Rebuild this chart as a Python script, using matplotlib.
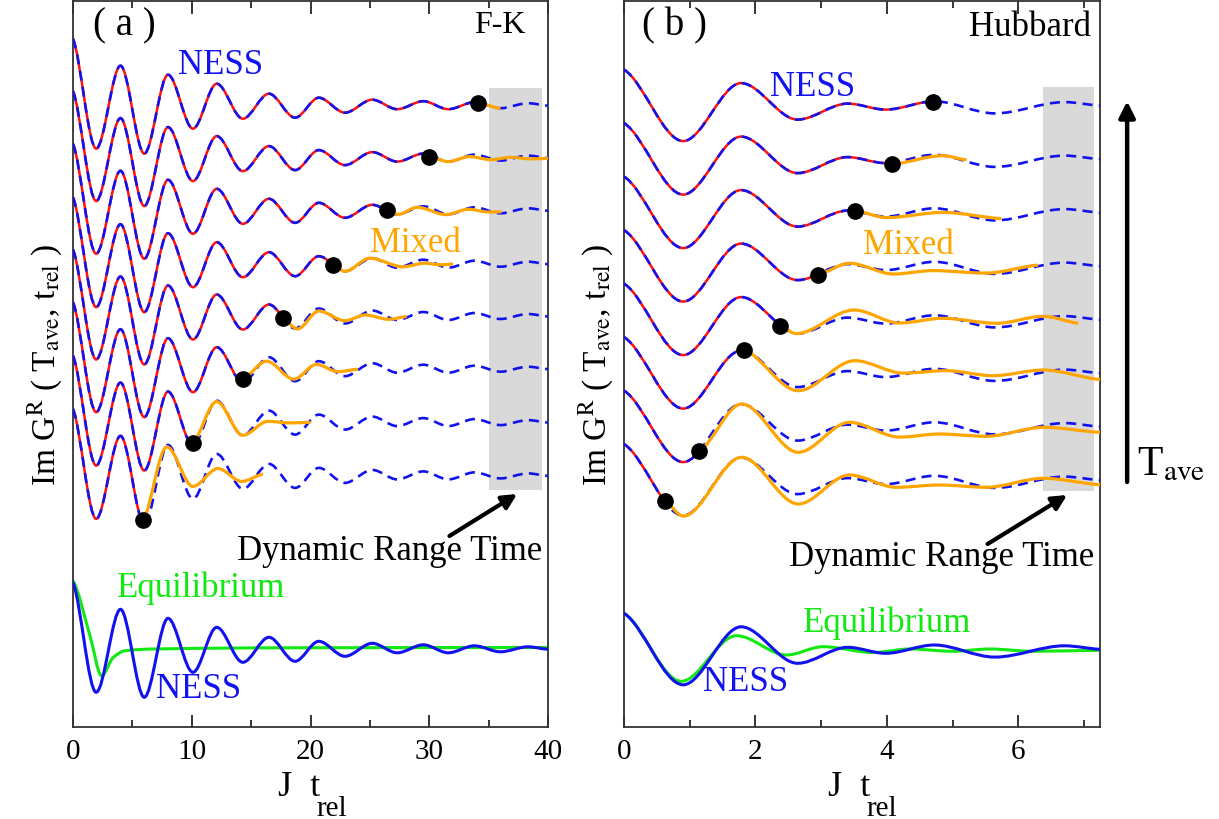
import numpy as np
import matplotlib
matplotlib.use('Agg')
import matplotlib.pyplot as plt
from matplotlib.path import Path
from matplotlib.patches import PathPatch, Rectangle
from matplotlib.ticker import MultipleLocator

plt.rcParams['font.family'] = ['Liberation Serif', 'DejaVu Serif']
plt.rcParams['mathtext.fontset'] = 'stix'

# ---------------- panel (a): F-K ----------------
# NESS curve, extrema (t, value relative to row baseline)
ness_a_t = [0, 1.95, 4.0, 6.0, 8.0, 10.1, 12.1, 14.3, 16.5, 18.7, 20.7, 22.9,
            25.2, 27.3, 29.5, 31.6, 33.8, 36.0, 38.3, 40]
ness_a_v = [67, -43, 40, -48, 31, -23, 22, -13, 12, -12, 8, -7,
            6, -3.5, 4.5, -3.5, 3.5, -2.5, 2.5, 0]
eq_a_t = [0, 1.43, 2.41, 3.4, 4.4, 6.8, 18, 40]
eq_a_v = [68.6, 13.6, -26.4, -8, -1.4, 0.3, 1.5, 1.8]

offsets_a = [621.3, 568.9, 516.2, 462.8, 410.5, 357.8, 304.4, 251.1]
dots_a_t = [34.1, 30.0, 26.4, 21.9, 17.7, 14.3, 10.1, 5.92]
dots_a_v = [3.0, 1.4, 0.5, -0.6, -1.7, -10.0, -20.7, -44.5]
mixed_a_t = [
    [36.0],
    [31.6, 33.4, 35.2, 36.9, 38.5, 40.0],
    [27.4, 29.0, 31.4, 33.3, 35.0, 36.1],
    [22.9, 25.0, 27.8, 29.6, 31.0, 32.0],
    [18.9, 20.7, 22.9, 24.6, 26.6, 28.1],
    [16.3, 18.6, 20.5, 22.3, 24.0],
    [12.1, 14.3, 16.4, 18.3, 20.0],
    [7.9, 10.1, 12.2, 14.2, 16.0],
]
mixed_a_v = [
    [-2.8],
    [-3.5, 1.5, -1.6, 0.8, -0.8, -0.3],
    [-3.5, 3.5, -3.8, 1.5, -1.2, -1.0],
    [-7.2, 6.0, -2.6, 1.0, -0.6, 0.2],
    [-12.5, 5.5, -4.2, 1.5, -2.8, 0],
    [8, -10, 4.8, -2.5, 0],
    [21, -12.7, 1.2, -0.3, 0.3],
    [29, -10.5, 7.4, -5.5, 1.8],
]

# ---------------- panel (b): Hubbard ----------------
ness_b_t = [0, 0.9, 1.78, 2.64, 3.4, 3.98, 4.72, 5.64, 6.7, 7.24]
ness_b_v = [36, -35.5, 22.5, -14, 2, -4, 4.3, -7.8, 3.5, 0]
eq_b_t = [0, 0.87, 1.71, 2.47, 3.03, 3.79, 4.35, 5.0, 5.56, 6.22, 7.24]
eq_b_v = [36, -32, 13.6, -5.7, 2.6, -3.2, 0.3, -2, 0.3, -2, -1]

offsets_b = [621.4, 567.9, 514.4, 460.9, 407.4, 353.9, 300.4, 246.9]
dots_b_t = [4.70, 4.08, 3.52, 2.95, 2.38, 1.83, 1.14, 0.62]
dots_b_v = [3.3, -5.2, 1.8, -8.6, -6.7, 23.4, -24.7, -20.6]
mixed_b_t = [
    [],
    [4.85, 5.21],
    [4.0, 4.85, 5.74],
    [3.43, 4.1, 4.7, 5.5, 6.3],
    [2.62, 3.5, 4.19, 4.85, 5.67, 6.38, 6.91],
    [2.65, 3.51, 4.25, 4.9, 5.61, 6.38, 7.24],
    [1.79, 2.65, 3.43, 4.19, 4.8, 5.51, 6.38, 7.24],
    [0.9, 1.79, 2.65, 3.43, 4.14, 4.8, 5.51, 6.38, 7.24],
]
mixed_b_v = [
    [],
    [3.4, -0.8],
    [-5.0, 0.2, -6.0],
    [2.8, -7.9, -4.5, -7.0, 1.0],
    [-14, 9.6, -3.4, 1.3, -3.7, 3.3, -3.7],
    [-17.6, 12.4, 0, 2.4, -2.6, 3.1, -6.4],
    [22.6, -25.7, 4.3, -10.5, -7.4, -9.7, -0.7, -5.7],
    [-36, 22.8, -23.9, 5.1, -7.2, -4.9, -7.2, 1.8, -4.6],
]
base_bottom = 77.7

BLUE = '#1212ee'
RED = '#ff1010'
ORANGE = '#ffa500'
GREEN = '#12e812'
GRAY = '#d9d9d9'


def slopes(t, v):
    t = np.asarray(t, float)
    v = np.asarray(v, float)
    h = np.diff(t)
    s = np.diff(v) / h
    m = np.zeros(len(t))
    for i in range(1, len(t) - 1):
        if s[i - 1] * s[i] > 0:
            w1 = 2 * h[i] + h[i - 1]
            w2 = h[i] + 2 * h[i - 1]
            m[i] = (w1 + w2) / (w1 / s[i - 1] + w2 / s[i])
    m[0] = 0.5 * s[0]
    m[-1] = 0.5 * s[-1]
    return m


def curve_path(t, v, off):
    # cubic bezier segments through the read points (horizontal at extrema)
    m = slopes(t, v)
    verts = [(t[0], v[0] + off)]
    codes = [Path.MOVETO]
    for i in range(len(t) - 1):
        h = t[i + 1] - t[i]
        verts += [(t[i] + h / 3, v[i] + off + m[i] * h / 3),
                  (t[i + 1] - h / 3, v[i + 1] + off - m[i + 1] * h / 3),
                  (t[i + 1], v[i + 1] + off)]
        codes += [Path.CURVE4] * 3
    return Path(verts, codes)


def draw(ax, t, v, off, clip_to=None, **kw):
    p = PathPatch(curve_path(t, v, off), fill=False, joinstyle='round', **kw)
    ax.add_patch(p)
    if clip_to is not None:
        p.set_clip_path(Rectangle((0, -500), clip_to, 2000, transform=ax.transData))
    return p


def panel(ax, ness_t, ness_v, eq_t, eq_v, offsets, dots_t, dots_v, mix_t, mix_v):
    for k, off in enumerate(offsets):
        draw(ax, ness_t, ness_v, off, clip_to=dots_t[k], edgecolor=RED, lw=1.8, zorder=2)
        draw(ax, ness_t, ness_v, off, edgecolor=BLUE, lw=1.9,
             linestyle=(0, (3.8, 2.4)), zorder=3)
        if mix_t[k]:
            draw(ax, [dots_t[k]] + mix_t[k], [dots_v[k]] + mix_v[k], off,
                 edgecolor=ORANGE, lw=2.3, zorder=4)
        ax.plot(dots_t[k], dots_v[k] + off, 'o', color='black', ms=11, zorder=5)
    draw(ax, eq_t, eq_v, base_bottom, edgecolor=GREEN, lw=2.2, zorder=2)
    draw(ax, ness_t, ness_v, base_bottom, edgecolor=BLUE, lw=2.2, zorder=3)


fig = plt.figure(figsize=(12.19, 8.20), dpi=100)
ax_a = fig.add_axes([73 / 1219, 92 / 820, 475 / 1219, 726 / 820])
ax_b = fig.add_axes([624 / 1219, 92 / 820, 476 / 1219, 726 / 820])

ax_a.set_xlim(0, 40)
ax_b.set_xlim(0, 7.24)
for ax in (ax_a, ax_b):
    ax.set_ylim(0, 726)
    ax.set_yticks([])
    ax.tick_params(axis='x', which='both', direction='in', top=True, labelsize=21, pad=8)
    ax.tick_params(axis='x', which='major', length=9, width=1.1)
    ax.tick_params(axis='x', which='minor', length=5, width=1.1)
    for sp in ax.spines.values():
        sp.set_linewidth(1.3)
        sp.set_color('#333333')
ax_a.xaxis.set_major_locator(MultipleLocator(10))
ax_a.xaxis.set_minor_locator(MultipleLocator(5))
ax_b.xaxis.set_major_locator(MultipleLocator(2))
ax_b.xaxis.set_minor_locator(MultipleLocator(1))

# dynamic range time windows
ax_a.add_patch(Rectangle((35.06, 237.3), 4.41, 401.9, facecolor=GRAY, edgecolor='none', zorder=0.5))
ax_b.add_patch(Rectangle((6.38, 236.3), 0.77, 403.9, facecolor=GRAY, edgecolor='none', zorder=0.5))

panel(ax_a, ness_a_t, ness_a_v, eq_a_t, eq_a_v, offsets_a, dots_a_t, dots_a_v,
      mixed_a_t, mixed_a_v)
panel(ax_b, ness_b_t, ness_b_v, eq_b_t, eq_b_v, offsets_b, dots_b_t, dots_b_v,
      mixed_b_t, mixed_b_v)

# axis labels (subscripts are large in the original, so "rel" is its own text)
ylab = r'Im G$^{\rm R}$ ( T$_{\rm ave}$, t$_{\rm rel}$ )'
for ax, yl, jx, rx in ((ax_a, -0.059, 0.4316, 0.512), (ax_b, -0.058, 0.4277, 0.509)):
    ax.set_ylabel(ylab, fontsize=24, va='center')
    ax.yaxis.set_label_coords(yl, 0.5)
    ax.text(jx, -0.0937, 'J  t', transform=ax.transAxes, fontsize=26,
            ha='left', va='baseline')
    ax.text(rx, -0.121, 'rel', transform=ax.transAxes, fontsize=21,
            ha='left', va='baseline')

# annotations panel (a)
ax_a.text(0.042, 0.967, '( a )', transform=ax_a.transAxes, fontsize=28, va='center', ha='left')
ax_a.text(0.899, 0.967, 'F-K', transform=ax_a.transAxes, fontsize=23, va='center', ha='center')
ax_a.text(12.4, 663, 'NESS', color=BLUE, fontsize=25, ha='center', va='center')
ax_a.text(28.8, 484, 'Mixed', color=ORANGE, fontsize=25, ha='center', va='center')
ax_a.text(26.7, 177, 'Dynamic Range Time', fontsize=25, ha='center', va='center')
ax_a.text(10.8, 140, 'Equilibrium', color=GREEN, fontsize=25, ha='center', va='center')
ax_a.text(10.6, 38, 'NESS', color=BLUE, fontsize=25, ha='center', va='center')
ax_a.annotate('', xy=(37.4, 233), xytext=(31.7, 191),
              arrowprops=dict(arrowstyle='-|>', lw=3, color='black', mutation_scale=22,
                              shrinkA=0, shrinkB=0))

# annotations panel (b)
ax_b.text(0.037, 0.967, '( b )', transform=ax_b.transAxes, fontsize=28, va='center', ha='left')
ax_b.text(0.982, 0.965, 'Hubbard', transform=ax_b.transAxes, fontsize=25, va='center', ha='right')
ax_b.text(2.87, 640, 'NESS', color=BLUE, fontsize=25, ha='center', va='center')
ax_b.text(4.32, 482, 'Mixed', color=ORANGE, fontsize=25, ha='center', va='center')
ax_b.text(4.83, 171, 'Dynamic Range Time', fontsize=25, ha='center', va='center')
ax_b.text(4.0, 105, 'Equilibrium', color=GREEN, fontsize=25, ha='center', va='center')
ax_b.text(1.85, 45, 'NESS', color=BLUE, fontsize=25, ha='center', va='center')
ax_b.annotate('', xy=(6.74, 232), xytext=(5.53, 183),
              arrowprops=dict(arrowstyle='-|>', lw=3, color='black', mutation_scale=22,
                              shrinkA=0, shrinkB=0))

# T_ave arrow on the right
ax_b.annotate('', xy=(1.057, 0.862), xytext=(1.057, 0.3375), xycoords='axes fraction',
              arrowprops=dict(arrowstyle='-|>', lw=3.2, color='black', mutation_scale=24,
                              shrinkA=0, shrinkB=0), annotation_clip=False)
ax_b.text(1.078, 0.348, r'T$_{\rm ave}$', transform=ax_b.transAxes, fontsize=30,
          va='baseline', ha='left')

fig.savefig('out.png', dpi=100)
